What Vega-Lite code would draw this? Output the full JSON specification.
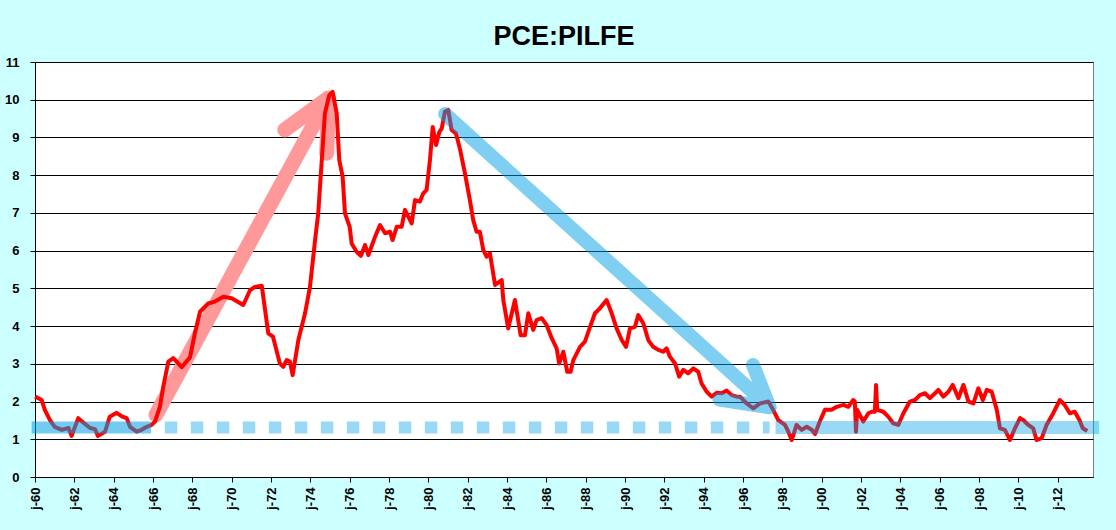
{
 "$schema": "https://vega.github.io/schema/vega-lite/v6.json",
 "width": 1058,
 "height": 415,
 "autosize": {"type": "none"},
 "padding": {"left": 35, "top": 62, "right": 23, "bottom": 53},
 "background": "#ccffff",
 "config": {
  "view": {"stroke": "#808080", "fill": "#ffffff"},
  "axis": {"labelFont": "Liberation Sans", "labelFontWeight": "bold", "labelFontSize": 13, "labelColor": "#000000", "domainColor": "#000000", "tickColor": "#000000", "tickSize": 5, "title": null}
 },
 "title": {"text": "PCE:PILFE", "font": "Liberation Sans", "fontSize": 27, "fontWeight": "bold", "color": "#000000", "anchor": "middle", "frame": "group", "offset": 10, "baseline": "bottom", "dy": 32},
 "datasets": {
  "pce": [
   {"t":1960.0,"v":2.13},{"t":1960.2,"v":2.08},{"t":1960.34,"v":2.04},{"t":1960.5,"v":1.78},{"t":1960.76,"v":1.51},{"t":1961.0,"v":1.33},{"t":1961.36,"v":1.25},{"t":1961.7,"v":1.3},{"t":1961.86,"v":1.09},{"t":1962.2,"v":1.56},{"t":1962.46,"v":1.44},{"t":1962.8,"v":1.3},{"t":1963.05,"v":1.27},{"t":1963.2,"v":1.09},{"t":1963.56,"v":1.2},{"t":1963.8,"v":1.6},{"t":1964.15,"v":1.7},{"t":1964.44,"v":1.6},{"t":1964.66,"v":1.56},{"t":1964.83,"v":1.33},{"t":1965.17,"v":1.2},{"t":1965.42,"v":1.25},{"t":1965.68,"v":1.33},{"t":1965.93,"v":1.38},{"t":1966.1,"v":1.47},{"t":1966.35,"v":1.86},{"t":1966.52,"v":2.39},{"t":1966.78,"v":3.06},{"t":1967.03,"v":3.15},{"t":1967.46,"v":2.91},{"t":1967.88,"v":3.17},{"t":1968.13,"v":3.81},{"t":1968.39,"v":4.38},{"t":1968.81,"v":4.6},{"t":1969.15,"v":4.65},{"t":1969.57,"v":4.78},{"t":1970.0,"v":4.74},{"t":1970.59,"v":4.56},{"t":1970.93,"v":4.95},{"t":1971.18,"v":5.04},{"t":1971.53,"v":5.07},{"t":1971.86,"v":3.81},{"t":1972.1,"v":3.72},{"t":1972.45,"v":3.01},{"t":1972.62,"v":2.92},{"t":1972.8,"v":3.1},{"t":1972.96,"v":3.06},{"t":1973.1,"v":2.7},{"t":1973.39,"v":3.63},{"t":1973.73,"v":4.34},{"t":1973.98,"v":5.04},{"t":1974.24,"v":6.28},{"t":1974.4,"v":6.99},{"t":1974.57,"v":8.31},{"t":1974.74,"v":9.64},{"t":1974.96,"v":10.12},{"t":1975.13,"v":10.21},{"t":1975.34,"v":9.64},{"t":1975.47,"v":8.4},{"t":1975.64,"v":7.96},{"t":1975.76,"v":6.99},{"t":1976.0,"v":6.63},{"t":1976.1,"v":6.19},{"t":1976.35,"v":5.97},{"t":1976.57,"v":5.86},{"t":1976.78,"v":6.15},{"t":1976.95,"v":5.88},{"t":1977.29,"v":6.37},{"t":1977.54,"v":6.68},{"t":1977.8,"v":6.46},{"t":1978.05,"v":6.5},{"t":1978.18,"v":6.28},{"t":1978.39,"v":6.63},{"t":1978.64,"v":6.63},{"t":1978.81,"v":7.08},{"t":1979.15,"v":6.72},{"t":1979.32,"v":7.34},{"t":1979.57,"v":7.3},{"t":1979.74,"v":7.52},{"t":1979.91,"v":7.61},{"t":1980.08,"v":8.4},{"t":1980.22,"v":9.28},{"t":1980.39,"v":8.8},{"t":1980.56,"v":9.15},{"t":1980.68,"v":9.24},{"t":1980.84,"v":9.68},{"t":1981.01,"v":9.73},{"t":1981.18,"v":9.2},{"t":1981.4,"v":9.11},{"t":1981.6,"v":8.71},{"t":1981.86,"v":8.05},{"t":1982.11,"v":7.34},{"t":1982.28,"v":6.81},{"t":1982.45,"v":6.5},{"t":1982.62,"v":6.5},{"t":1982.79,"v":6.02},{"t":1982.96,"v":5.84},{"t":1983.13,"v":5.93},{"t":1983.39,"v":5.09},{"t":1983.73,"v":5.22},{"t":1983.81,"v":4.69},{"t":1984.06,"v":3.94},{"t":1984.4,"v":4.69},{"t":1984.69,"v":3.76},{"t":1984.91,"v":3.76},{"t":1985.08,"v":4.34},{"t":1985.33,"v":3.9},{"t":1985.5,"v":4.16},{"t":1985.76,"v":4.21},{"t":1986.01,"v":4.03},{"t":1986.27,"v":3.68},{"t":1986.52,"v":3.41},{"t":1986.65,"v":3.01},{"t":1986.86,"v":3.32},{"t":1987.06,"v":2.79},{"t":1987.23,"v":2.79},{"t":1987.37,"v":3.1},{"t":1987.71,"v":3.45},{"t":1987.96,"v":3.59},{"t":1988.22,"v":3.98},{"t":1988.47,"v":4.34},{"t":1988.72,"v":4.47},{"t":1989.06,"v":4.69},{"t":1989.32,"v":4.34},{"t":1989.57,"v":3.94},{"t":1989.83,"v":3.63},{"t":1990.05,"v":3.45},{"t":1990.25,"v":3.94},{"t":1990.5,"v":3.98},{"t":1990.67,"v":4.29},{"t":1990.93,"v":4.07},{"t":1991.18,"v":3.63},{"t":1991.43,"v":3.45},{"t":1991.69,"v":3.37},{"t":1991.94,"v":3.32},{"t":1992.11,"v":3.41},{"t":1992.28,"v":3.19},{"t":1992.54,"v":3.01},{"t":1992.75,"v":2.66},{"t":1992.96,"v":2.84},{"t":1993.21,"v":2.75},{"t":1993.47,"v":2.88},{"t":1993.72,"v":2.79},{"t":1993.89,"v":2.48},{"t":1994.15,"v":2.26},{"t":1994.4,"v":2.13},{"t":1994.66,"v":2.23},{"t":1994.91,"v":2.22},{"t":1995.17,"v":2.29},{"t":1995.42,"v":2.17},{"t":1995.67,"v":2.13},{"t":1995.84,"v":2.13},{"t":1996.18,"v":1.95},{"t":1996.52,"v":1.82},{"t":1996.86,"v":1.95},{"t":1997.28,"v":2.0},{"t":1997.53,"v":1.78},{"t":1997.79,"v":1.51},{"t":1998.13,"v":1.38},{"t":1998.3,"v":1.2},{"t":1998.47,"v":0.98},{"t":1998.72,"v":1.38},{"t":1998.98,"v":1.25},{"t":1999.23,"v":1.33},{"t":1999.49,"v":1.25},{"t":1999.66,"v":1.14},{"t":1999.9,"v":1.47},{"t":2000.16,"v":1.78},{"t":2000.5,"v":1.78},{"t":2000.76,"v":1.86},{"t":2001.1,"v":1.91},{"t":2001.35,"v":1.86},{"t":2001.6,"v":2.04},{"t":2001.68,"v":2.0},{"t":2001.74,"v":1.2},{"t":2001.8,"v":1.78},{"t":2002.11,"v":1.47},{"t":2002.37,"v":1.69},{"t":2002.54,"v":1.73},{"t":2002.7,"v":1.73},{"t":2002.76,"v":2.44},{"t":2002.82,"v":1.78},{"t":2003.13,"v":1.73},{"t":2003.38,"v":1.6},{"t":2003.64,"v":1.42},{"t":2003.89,"v":1.38},{"t":2004.15,"v":1.69},{"t":2004.48,"v":2.0},{"t":2004.74,"v":2.04},{"t":2004.99,"v":2.17},{"t":2005.25,"v":2.22},{"t":2005.5,"v":2.09},{"t":2005.76,"v":2.22},{"t":2005.93,"v":2.31},{"t":2006.18,"v":2.13},{"t":2006.44,"v":2.26},{"t":2006.66,"v":2.44},{"t":2006.95,"v":2.09},{"t":2007.2,"v":2.44},{"t":2007.46,"v":2.0},{"t":2007.71,"v":1.95},{"t":2007.96,"v":2.35},{"t":2008.19,"v":2.04},{"t":2008.39,"v":2.31},{"t":2008.64,"v":2.26},{"t":2008.9,"v":1.78},{"t":2009.06,"v":1.29},{"t":2009.31,"v":1.25},{"t":2009.57,"v":0.98},{"t":2009.82,"v":1.29},{"t":2010.08,"v":1.56},{"t":2010.24,"v":1.51},{"t":2010.5,"v":1.38},{"t":2010.75,"v":1.29},{"t":2010.92,"v":0.98},{"t":2011.18,"v":1.03},{"t":2011.43,"v":1.38},{"t":2011.77,"v":1.69},{"t":2012.1,"v":2.04},{"t":2012.35,"v":1.91},{"t":2012.61,"v":1.69},{"t":2012.86,"v":1.73},{"t":2013.1,"v":1.51},{"t":2013.27,"v":1.29},{"t":2013.5,"v":1.22}
  ],
  "ann": [
   {"g":"pink","s":1,"i":1,"t":1966.15,"v":1.65},{"g":"pink","s":1,"i":2,"t":1974.9,"v":10.04},
   {"g":"pink","s":2,"i":1,"t":1972.7,"v":9.2},{"g":"pink","s":2,"i":2,"t":1974.9,"v":10.04},
   {"g":"pink","s":3,"i":1,"t":1974.83,"v":8.58},{"g":"pink","s":3,"i":2,"t":1974.93,"v":10.04},
   {"g":"dots","s":1,"i":1,"t":1966.6,"v":1.31},{"g":"dots","s":1,"i":2,"t":1997.35,"v":1.31},
   {"g":"bandL","s":1,"i":1,"t":1959.83,"v":1.31},{"g":"bandL","s":1,"i":2,"t":1965.9,"v":1.31},
   {"g":"bandR","s":1,"i":1,"t":1997.65,"v":1.31},{"g":"bandR","s":1,"i":2,"t":2014.1,"v":1.31},
   {"g":"arrow","s":1,"i":1,"t":1980.85,"v":9.62},{"g":"arrow","s":1,"i":2,"t":1997.35,"v":1.85},{"g":"arrow","s":1,"i":3,"t":1996.5,"v":2.97},{"g":"arrow","s":1,"i":4,"t":1997.35,"v":1.85},{"g":"arrow","s":1,"i":5,"t":1994.8,"v":2.05}
  ]
 },
 "encoding": {
  "x": {"field": "t", "type": "quantitative", "scale": {"domain": [1960, 2013.79], "nice": false, "zero": false},
        "axis": {"values": [1960,1962,1964,1966,1968,1970,1972,1974,1976,1978,1980,1982,1984,1986,1988,1990,1992,1994,1996,1998,2000,2002,2004,2006,2008,2010,2012], "labelExpr": "'j-' + slice(toString(datum.value), 2)", "labelAngle": 270, "labelPadding": 5, "grid": false}},
  "y": {"field": "v", "type": "quantitative", "scale": {"domain": [0, 11], "nice": false},
        "axis": {"values": [0,1,2,3,4,5,6,7,8,9,10,11], "grid": true, "gridColor": "#000000", "gridOpacity": 1, "gridWidth": 1, "labelPadding": 11}}
 },
 "layer": [
  {"data": {"name": "ann"}, "transform": [{"filter": "datum.g == 'pink'"}],
   "mark": {"type": "line", "color": "#ff9999", "strokeWidth": 15, "strokeCap": "round", "strokeJoin": "round"},
   "encoding": {"detail": {"field": "s"}, "order": {"field": "i"}}},
  {"data": {"name": "pce"},
   "mark": {"type": "line", "color": "#ff0000", "strokeWidth": 4, "strokeJoin": "round"}},
  {"data": {"name": "ann"}, "transform": [{"filter": "datum.g == 'dots'"}],
   "mark": {"type": "line", "color": "#00a0e6", "opacity": 0.4, "strokeWidth": 12, "strokeDash": [12.5, 13.5], "strokeCap": "butt"},
   "encoding": {"order": {"field": "i"}}},
  {"data": {"name": "ann"}, "transform": [{"filter": "datum.g == 'bandL'"}],
   "mark": {"type": "line", "color": "#00a0e6", "opacity": 0.55, "strokeWidth": 12, "strokeCap": "butt"},
   "encoding": {"order": {"field": "i"}}},
  {"data": {"name": "ann"}, "transform": [{"filter": "datum.g == 'bandR'"}],
   "mark": {"type": "line", "color": "#00a0e6", "opacity": 0.4, "strokeWidth": 13, "strokeCap": "butt"},
   "encoding": {"order": {"field": "i"}}},
  {"data": {"name": "ann"}, "transform": [{"filter": "datum.g == 'arrow'"}],
   "mark": {"type": "line", "color": "#00a0e6", "opacity": 0.5, "strokeWidth": 14, "strokeCap": "round", "strokeJoin": "round"},
   "encoding": {"order": {"field": "i"}}}
 ]
}
